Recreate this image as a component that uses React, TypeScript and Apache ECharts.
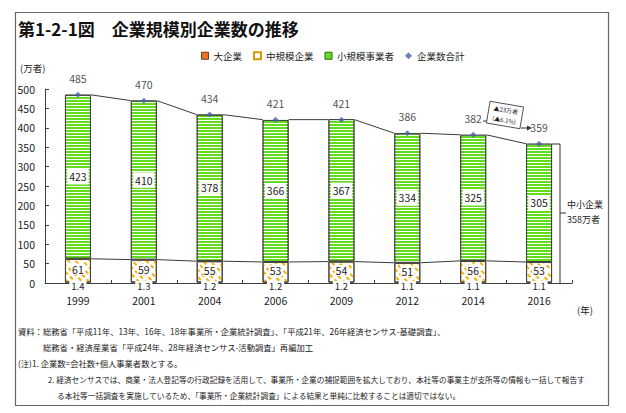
import React, { useEffect, useRef } from 'react';
import * as echarts from 'echarts';

const years = ['1999', '2001', '2004', '2006', '2009', '2012', '2014', '2016'];
const largeEnt = [1.4, 1.3, 1.2, 1.2, 1.2, 1.1, 1.1, 1.1];
const mediumEnt = [61, 59, 55, 53, 54, 51, 56, 53];
const smallEnt = [423, 410, 378, 366, 367, 334, 325, 305];
const totalEnt = [485, 470, 434, 421, 421, 386, 382, 359];
const yTicks = { min: 0, max: 500, interval: 50 };

const F = '"Noto Sans CJK JP", "Noto Sans", sans-serif';

const footnotes = [
  { x: 18, y: 331, s: 8.3, t: '資料：総務省「平成11年、13年、16年、18年事業所・企業統計調査」、「平成21年、26年経済センサス-基礎調査」、' },
  { x: 43, y: 347, s: 8.3, t: '総務省・経済産業省「平成24年、28年経済センサス-活動調査」再編加工' },
  { x: 18, y: 363, s: 8.3, t: '(注)1. 企業数=会社数+個人事業者数とする。' },
  { x: 48, y: 379, s: 7.7, t: '2. 経済センサスでは、商業・法人登記等の行政記録を活用して、事業所・企業の捕捉範囲を拡大しており、本社等の事業主が支所等の情報も一括して報告す' },
  { x: 57, y: 395, s: 7.7, t: 'る本社等一括調査を実施しているため、「事業所・企業統計調査」による結果と単純に比較することは適切ではない。' },
];

export default function App() {
  const ref = useRef<HTMLDivElement>(null);
  useEffect(() => {
    const chart = echarts.init(ref.current!, null, { renderer: 'svg' });
    const boundary = largeEnt.map((v, i) => +(v + mediumEnt[i]).toFixed(1));
    const pairs = (arr: number[]) => arr.slice(0, -1).map((v, i) => [i, v, arr[i + 1]]);
    const connector = (name: string, data: number[][]) => ({
      type: 'custom',
      name,
      silent: true,
      z: 6,
      data,
      encode: { x: 0, y: 1 },
      renderItem: (params: any, api: any) => {
        const i = api.value(0);
        const a = api.coord([i, api.value(1)]);
        const b = api.coord([i + 1, api.value(2)]);
        const hw = 13;
        return {
          type: 'line',
          shape: { x1: a[0] + hw, y1: a[1], x2: b[0] - hw, y2: b[1] },
          style: { stroke: '#3a3a3a', lineWidth: 1 },
        };
      },
    });

    const labelBase = { fontFamily: F, fontSize: 10.5, color: '#222' };

    chart.setOption({
      animation: false,
      textStyle: { fontFamily: F },
      legend: {
        left: 196,
        top: 46,
        itemWidth: 7,
        itemHeight: 7,
        itemGap: 11,
        textStyle: { fontSize: 9.5, color: '#222', fontFamily: F },
        data: [
          { name: '大企業', icon: 'rect', itemStyle: { color: '#e8732a', borderColor: '#7a3a10', borderWidth: 1, decal: 'none' } },
          { name: '中規模企業', icon: 'rect', itemStyle: { color: '#fff', borderColor: '#d69a00', borderWidth: 2, decal: 'none' } },
          { name: '小規模事業者', icon: 'rect', itemStyle: { color: '#66dd22', borderColor: '#2a6a10', borderWidth: 1, decal: 'none' } },
          { name: '企業数合計', icon: 'diamond', itemStyle: { color: '#4a5fb0' } },
        ],
      },
      grid: { left: 45, right: 54, top: 89, bottom: 130 },
      xAxis: {
        type: 'category',
        data: years,
        axisLine: { lineStyle: { color: '#404040', width: 1 } },
        axisTick: { show: true, inside: true, length: 3, lineStyle: { color: '#404040' } },
        axisLabel: { margin: 12, fontSize: 10.5, lineHeight: 11, color: '#222', fontFamily: F },
      },
      yAxis: {
        type: 'value',
        min: yTicks.min,
        max: yTicks.max,
        interval: yTicks.interval,
        axisLine: { show: true, lineStyle: { color: '#404040', width: 1 } },
        axisTick: { show: true, inside: true, length: 4, lineStyle: { color: '#404040' } },
        axisLabel: { margin: 10, fontSize: 10.5, color: '#222', fontFamily: F },
        splitLine: { show: false },
      },
      series: [
        {
          name: '大企業',
          type: 'bar',
          stack: 'ent',
          barWidth: 26,
          data: largeEnt,
          itemStyle: { color: '#e8732a', borderColor: '#404040', borderWidth: 0.5 },
          label: {
            show: true,
            position: 'bottom',
            distance: -2,
            fontFamily: F,
            fontSize: 9.5,
            lineHeight: 9.5,
            color: '#222',
            backgroundColor: '#fff',
            padding: [0, 2, 0, 2],
          },
          z: 3,
        },
        {
          name: '中規模企業',
          type: 'bar',
          stack: 'ent',
          barWidth: 26,
          data: mediumEnt,
          itemStyle: {
            color: '#ffffff',
            borderColor: '#404040',
            borderWidth: 1,
            decal: {
              symbol: 'rect',
              symbolSize: 1,
              color: '#f5b000',
              dashArrayX: [4, 3],
              dashArrayY: [2, 3],
              rotation: Math.PI / 4,
            },
          },
          label: {
            show: true,
            position: 'inside',
            offset: [0, -1.5],
            ...labelBase,
            lineHeight: 11,
            backgroundColor: '#fff',
            padding: [0, 1, 0, 1],
          },
          z: 2,
        },
        {
          name: '小規模事業者',
          type: 'bar',
          stack: 'ent',
          barWidth: 26,
          data: smallEnt,
          itemStyle: {
            color: '#62dc1c',
            borderColor: '#404040',
            borderWidth: 1,
            decal: {
              symbol: 'rect',
              symbolSize: 1,
              color: '#ffffff',
              dashArrayX: [1, 0],
              dashArrayY: [1, 2],
              rotation: 0,
            },
          },
          label: {
            show: true,
            position: 'inside',
            ...labelBase,
            backgroundColor: '#fff',
            padding: [3, 2, 2, 2],
          },
          z: 2,
        },
        {
          name: '企業数合計',
          type: 'scatter',
          data: totalEnt,
          symbol: 'diamond',
          symbolSize: 6,
          itemStyle: { color: '#4a5fb0' },
          label: {
            show: true,
            position: 'top',
            distance: 8,
            ...labelBase,
            formatter: (p: any) => String(totalEnt[p.dataIndex]),
          },
          z: 10,
        },
        connector('total-lines', pairs(totalEnt)),
        connector('medium-lines', pairs(boundary)),
      ],
      graphic: [
        {
          type: 'rect',
          shape: { x: 15.5, y: 12.5, width: 593, height: 393 },
          style: { fill: 'none', stroke: '#666', lineWidth: 1.2 },
          silent: true,
        },
        {
          type: 'text',
          x: 18,
          y: 28,
          style: { text: '第1-2-1図　企業規模別企業数の推移', font: `bold 17px ${F}`, fill: '#111', verticalAlign: 'middle' },
        },
        {
          type: 'text',
          x: 20,
          y: 68,
          style: { text: '(万者)', font: `9.5px ${F}`, fill: '#222', verticalAlign: 'middle' },
        },
        {
          type: 'text',
          x: 577,
          y: 310,
          style: { text: '(年)', font: `9.5px ${F}`, fill: '#222', verticalAlign: 'middle' },
        },
        {
          type: 'polyline',
          shape: { points: [[552, 144], [560, 144], [560, 283]] },
          style: { stroke: '#333', lineWidth: 1, fill: 'none' },
        },
        {
          type: 'line',
          shape: { x1: 560, y1: 213, x2: 566, y2: 213 },
          style: { stroke: '#333', lineWidth: 1 },
        },
        {
          type: 'text',
          x: 567,
          y: 204,
          style: { text: '中小企業', font: `9px ${F}`, fill: '#222', verticalAlign: 'middle' },
        },
        {
          type: 'text',
          x: 567,
          y: 219,
          style: { text: '358万者', font: `9px ${F}`, fill: '#222', verticalAlign: 'middle' },
        },
        {
          type: 'line',
          shape: { x1: 483, y1: 121, x2: 489, y2: 121 },
          style: { stroke: '#333', lineWidth: 1 },
        },
        {
          type: 'line',
          shape: { x1: 521, y1: 128, x2: 528, y2: 128 },
          style: { stroke: '#333', lineWidth: 1 },
        },
        {
          type: 'polygon',
          shape: { points: [[527, 125.5], [532, 128], [527, 130.5]] },
          style: { fill: '#333' },
        },
        {
          type: 'group',
          x: 505,
          y: 115,
          rotation: -0.17,
          children: [
            {
              type: 'rect',
              shape: { x: -17, y: -11, width: 34, height: 22 },
              style: { fill: '#fff', stroke: '#333', lineWidth: 0.8 },
            },
            {
              type: 'text',
              x: 0,
              y: -5,
              style: { text: '▲23万者', font: `6px ${F}`, fill: '#222', align: 'center', verticalAlign: 'middle' },
            },
            {
              type: 'text',
              x: 0,
              y: 5,
              style: { text: '(▲6.1%)', font: `6px ${F}`, fill: '#222', align: 'center', verticalAlign: 'middle' },
            },
          ],
        },
        ...footnotes.map((f) => ({
          type: 'text',
          x: f.x,
          y: f.y,
          style: { text: f.t, font: `${f.s}px ${F}`, fill: '#222', verticalAlign: 'middle' },
        })),
      ],
    });
    return () => chart.dispose();
  }, []);
  return <div ref={ref} style={{ position: 'fixed', left: 0, top: 0, width: 626, height: 413, background: '#fff' }} />;
}
